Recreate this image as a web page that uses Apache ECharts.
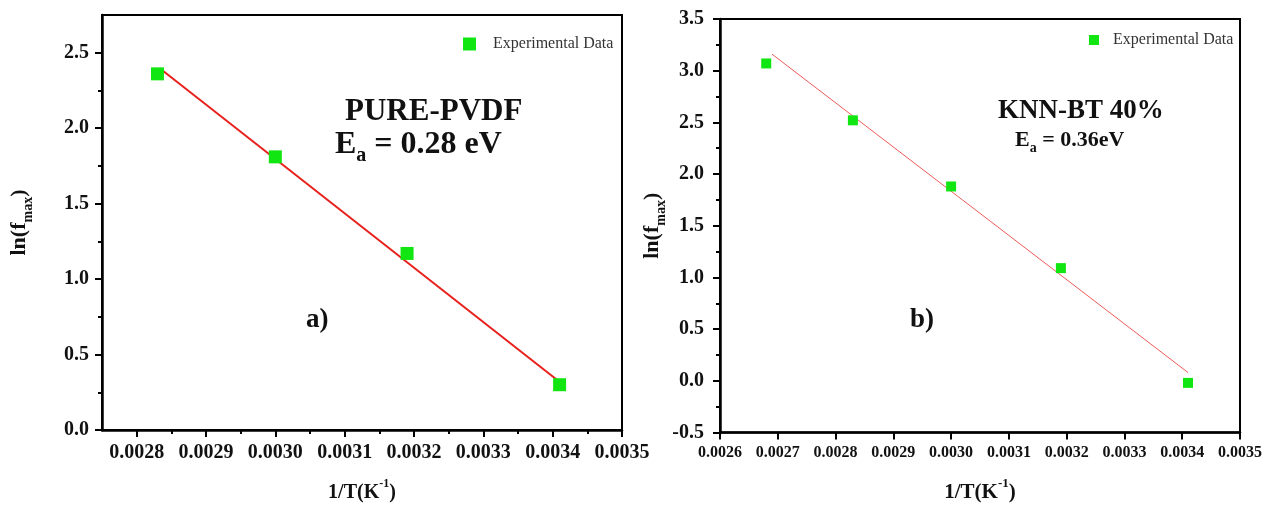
<!DOCTYPE html>
<html><head><meta charset="utf-8">
<script src="https://cdn.jsdelivr.net/npm/echarts@6/dist/echarts.min.js"></script>
<style>html,body{margin:0;padding:0;background:#fff}#c{width:1265px;height:508px}</style>
</head><body><div id="c"></div>
<script>
// ---- data ----
const pvdfX = [0.00283, 0.00300, 0.00319, 0.00341];
const pvdfY = [2.36, 1.81, 1.17, 0.30];
const pvdfFitX = [0.002835, 0.003407];
const pvdfFitY = [2.39, 0.33];
const knnX = [0.00268, 0.00283, 0.00300, 0.00319, 0.00341];
const knnY = [3.07, 2.52, 1.88, 1.09, -0.02];
const knnFitX = [0.00269, 0.00341];
const knnFitY = [3.16, 0.08];
const xTicksA = [0.0028, 0.0029, 0.0030, 0.0031, 0.0032, 0.0033, 0.0034, 0.0035];
const xMinorA = [0.00285, 0.00295, 0.00305, 0.00315, 0.00325, 0.00335, 0.00345];
const yTicksA = [0, 0.5, 1.0, 1.5, 2.0, 2.5];
const yMinorA = [0.25, 0.75, 1.25, 1.75, 2.25];
const legendName = 'Experimental Data';

const FF = 'Liberation Serif';
const pairs = (xs, ys) => xs.map((x, i) => [x, ys[i]]);
const lblStyle = (size, margin) => ({ fontFamily: FF, fontWeight: 'bold', fontSize: size, color: '#111', margin });
const yName = '{a|ln(f}{s|max}{a|)}';
const xName = '{a|1/T(K}{s|-1}{a|)}';
const nameRich = (sz) => ({
  a: { fontFamily: FF, fontWeight: 'bold', fontSize: sz, color: '#111', lineHeight: 32, verticalAlign: 'middle' },
  s: { fontFamily: FF, fontWeight: 'bold', fontSize: Math.round(sz * 0.62), color: '#111', lineHeight: 32, verticalAlign: 'bottom' }
});
const xNameRich = (sz) => ({
  a: { fontFamily: FF, fontWeight: 'bold', fontSize: sz, color: '#111', lineHeight: 30, verticalAlign: 'middle' },
  s: { fontFamily: FF, fontWeight: 'bold', fontSize: Math.round(sz * 0.62), color: '#111', lineHeight: 30, verticalAlign: 'top' }
});
const axLine = { show: true, onZero: false, lineStyle: { color: '#000', width: 2.5 } };
const tickLS = { color: '#000', width: 2 };

const chart = echarts.init(document.getElementById('c'), null, { renderer: 'canvas' });
const option = {
  backgroundColor: '#fff',
  animation: false,
  grid: [
    { left: 102, top: 15, width: 520, height: 420, show: true, borderColor: '#000', borderWidth: 2, backgroundColor: 'transparent' },
    { left: 720, top: 19, width: 520, height: 418, show: true, borderColor: '#000', borderWidth: 2, backgroundColor: 'transparent' }
  ],
  legend: [
    { data: [legendName], left: 458, top: 31, icon: 'rect', itemWidth: 13, itemHeight: 13, selectedMode: false,
      textStyle: { fontFamily: FF, fontSize: 16, color: '#333', padding: [0, 0, 0, 12] } },
    { data: [legendName], left: 1084, top: 27, icon: 'rect', itemWidth: 10, itemHeight: 10, selectedMode: false,
      textStyle: { fontFamily: FF, fontSize: 16, color: '#333', padding: [0, 0, 0, 9] } }
  ],
  xAxis: [
    { // left chart: data axis with minor ticks
      type: 'value', gridIndex: 0, min: 0.00275, max: 0.0035, position: 'bottom',
      axisLine: axLine,
      axisTick: { show: true, length: 4, customValues: xMinorA, lineStyle: tickLS },
      axisLabel: { show: false }, splitLine: { show: false },
      name: xName, nameLocation: 'middle', nameGap: 48, nameTextStyle: { rich: xNameRich(20) }
    },
    { // left chart: major ticks and labels
      type: 'value', gridIndex: 0, min: 0.00275, max: 0.0035, position: 'bottom',
      axisLine: { show: false, onZero: false },
      axisTick: { show: true, length: 7, customValues: xTicksA, lineStyle: tickLS },
      axisLabel: Object.assign(lblStyle(20, 13), { customValues: xTicksA, formatter: v => v.toFixed(4) }),
      splitLine: { show: false }
    },
    { // right chart
      type: 'value', gridIndex: 1, min: 0.0026, max: 0.0035, interval: 0.0001,
      axisLine: axLine, axisTick: { show: true, length: 7, lineStyle: tickLS },
      axisLabel: Object.assign(lblStyle(16, 12), { formatter: v => v.toFixed(4) }),
      splitLine: { show: false },
      name: xName, nameLocation: 'middle', nameGap: 45, nameTextStyle: { rich: xNameRich(21) }
    }
  ],
  yAxis: [
    { // left chart: data axis with minor ticks
      type: 'value', gridIndex: 0, min: 0, max: 2.75, position: 'left',
      axisLine: axLine,
      axisTick: { show: true, length: 4, customValues: yMinorA, lineStyle: tickLS },
      axisLabel: { show: false }, splitLine: { show: false },
      name: yName, nameLocation: 'middle', nameGap: 67, nameTextStyle: { rich: nameRich(22) }
    },
    { // left chart: major ticks & labels
      type: 'value', gridIndex: 0, min: 0, max: 2.75, position: 'left',
      axisLine: { show: false, onZero: false },
      axisTick: { show: true, length: 7, customValues: yTicksA, lineStyle: tickLS },
      axisLabel: Object.assign(lblStyle(20, 13), { customValues: yTicksA, formatter: v => v.toFixed(1) }),
      splitLine: { show: false }
    },
    { // right chart
      type: 'value', gridIndex: 1, min: -0.5, max: 3.5, interval: 0.5,
      axisLine: axLine, axisTick: { show: true, length: 7, lineStyle: tickLS },
      minorTick: { show: true, splitNumber: 2, length: 4, lineStyle: tickLS },
      axisLabel: Object.assign(lblStyle(20, 16), { formatter: v => v.toFixed(1) }),
      splitLine: { show: false },
      name: yName, nameLocation: 'middle', nameGap: 51, nameTextStyle: { rich: nameRich(22) }
    }
  ],
  series: [
    { type: 'line', xAxisIndex: 0, yAxisIndex: 0, data: pairs(pvdfFitX, pvdfFitY), symbol: 'none',
      lineStyle: { color: '#e8201c', width: 2 }, z: 2 },
    { name: legendName, type: 'scatter', xAxisIndex: 0, yAxisIndex: 0, data: pairs(pvdfX, pvdfY),
      symbol: 'rect', symbolSize: 13, itemStyle: { color: '#12e612', opacity: 1 }, z: 3 },
    { type: 'line', xAxisIndex: 2, yAxisIndex: 2, data: pairs(knnFitX, knnFitY), symbol: 'none',
      lineStyle: { color: '#ee5a5a', width: 1 }, z: 2 },
    { name: legendName, type: 'scatter', xAxisIndex: 2, yAxisIndex: 2, data: pairs(knnX, knnY),
      symbol: 'rect', symbolSize: 10, itemStyle: { color: '#12e612', opacity: 1 }, z: 3 }
  ],
  graphic: [
    { type: 'text', left: 345, top: 96, style: { text: 'PURE-PVDF', font: 'bold 31px "Liberation Serif"', fill: '#111' } },
    { type: 'text', left: 335, top: 129, style: { text: '{b|E}{s|a}{b| = 0.28 eV}', rich: {
        b: { fontFamily: FF, fontWeight: 'bold', fontSize: 32, fill: '#111', color: '#111', lineHeight: 42, verticalAlign: 'middle' },
        s: { fontFamily: FF, fontWeight: 'bold', fontSize: 20, fill: '#111', color: '#111', lineHeight: 42, verticalAlign: 'bottom' } } } },
    { type: 'text', left: 306, top: 307, style: { text: 'a)', font: 'bold 27px "Liberation Serif"', fill: '#111' } },
    { type: 'text', left: 998, top: 98, style: { text: 'KNN-BT 40%', font: 'bold 27px "Liberation Serif"', fill: '#111' } },
    { type: 'text', left: 1015, top: 129, style: { text: '{b|E}{s|a}{b| = 0.36eV}', rich: {
        b: { fontFamily: FF, fontWeight: 'bold', fontSize: 22, fill: '#111', color: '#111', lineHeight: 30, verticalAlign: 'middle' },
        s: { fontFamily: FF, fontWeight: 'bold', fontSize: 14, fill: '#111', color: '#111', lineHeight: 30, verticalAlign: 'bottom' } } } },
    { type: 'text', left: 910, top: 307, style: { text: 'b)', font: 'bold 27px "Liberation Serif"', fill: '#111' } }
  ]
};
chart.setOption(option);
</script>
</body></html>
